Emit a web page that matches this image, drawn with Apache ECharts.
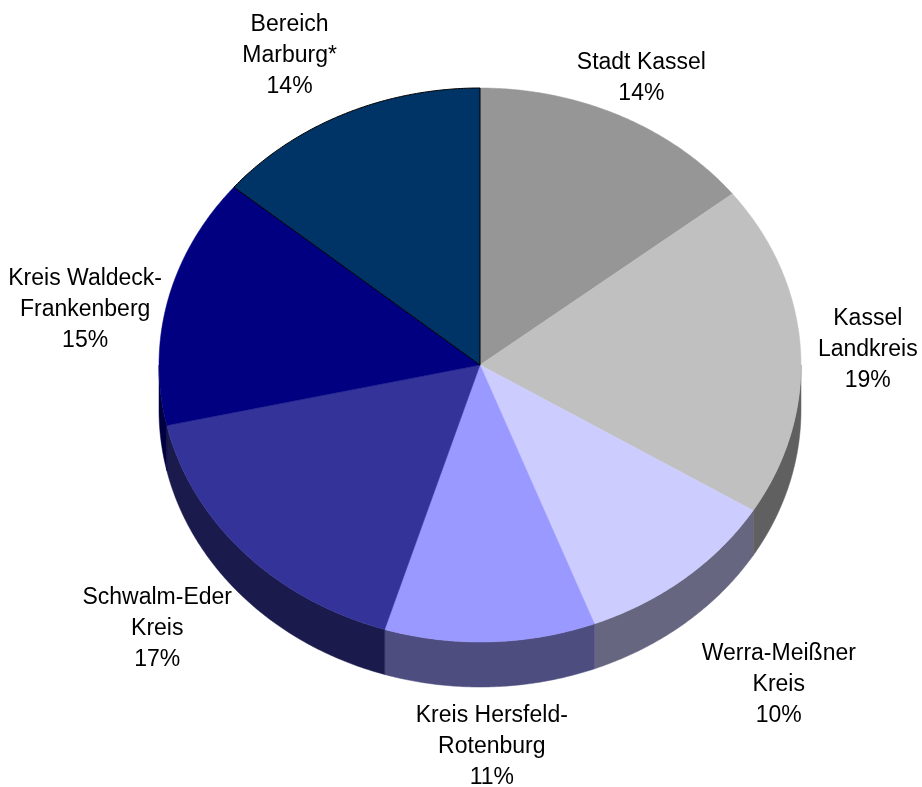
<!DOCTYPE html>
<html>
<head>
<meta charset="utf-8">
<script src="https://cdn.jsdelivr.net/npm/echarts@6/dist/echarts.min.js"></script>
<style>
  html, body { margin: 0; background: #fff; }
  #chart { width: 922px; height: 787px; }
</style>
</head>
<body>
<div id="chart"></div>
<script>
// Anteile der Regionen, im Uhrzeigersinn ab 12 Uhr
const regions = [
  'Stadt Kassel',
  'Kassel\nLandkreis',
  'Werra-Meißner\nKreis',
  'Kreis Hersfeld-\nRotenburg',
  'Schwalm-Eder\nKreis',
  'Kreis Waldeck-\nFrankenberg',
  'Bereich\nMarburg*'
]
const shares = [14.4, 19.4, 10.4, 10.6, 16.7, 14.6, 13.9]

// Farben: Oberseite / Seitenwand
const topColors = ['#969696', '#c0c0c0', '#ccccff', '#9999ff', '#333399', '#000080', '#003366']
const sideColors = ['#4b4b4b', '#606060', '#666680', '#4d4d80', '#1a1a4d', '#000040', '#001a33']
// Beschriftung: Abstand (relativ zum Radius) und Feinkorrektur in px
const labelDist = [1.15, 1.21, 1.47, 1.37, 1.38, 1.25, 1.27]
const labelNudge = [[0, 0], [0, 4], [-2, 6], [-2, 2], [3, 5], [-5, 27], [-18, 9]]

// Geometrie des 3D-Kuchens
const cx = 480, cy = 365, rx = 321, ry = 277, depth = 45

const total = shares.reduce((a, b) => a + b, 0)
const starts = []
shares.reduce((acc, v) => { starts.push(acc); return acc + v }, 0)

const toAngle = v => v / total * Math.PI * 2
const pt = (a, dy) => [cx + rx * Math.sin(a), cy - ry * Math.cos(a) + dy]

function arc(a0, a1, dy) {
  const n = Math.max(2, Math.ceil((a1 - a0) / (Math.PI / 360)))
  const out = []
  for (let i = 0; i <= n; i++) out.push(pt(a0 + (a1 - a0) * i / n, dy))
  return out
}

function renderItem(params, api) {
  const i = params.dataIndex
  const v = api.value(0)
  const a0 = toAngle(starts[i])
  const a1 = a0 + toAngle(v)
  const children = []

  // Seitenwand nur vorne sichtbar (90°..270°)
  const s0 = Math.max(a0, Math.PI / 2)
  const s1 = Math.min(a1, Math.PI * 1.5)
  if (s1 > s0) {
    const upper = arc(s0, s1, 0)
    const lower = arc(s0, s1, depth).reverse()
    children.push({
      type: 'polygon',
      shape: { points: upper.concat(lower) },
      style: { fill: sideColors[i], stroke: sideColors[i], lineWidth: 0.5 }
    })
  }

  // Oberseite
  const isMarburg = i === regions.length - 1
  children.push({
    type: 'polygon',
    shape: { points: [[cx, cy]].concat(arc(a0, a1, 0)) },
    style: {
      fill: topColors[i],
      stroke: isMarburg ? '#000' : topColors[i],
      lineWidth: isMarburg ? 1 : 0.5
    }
  })

  // Beschriftung
  const mid = (a0 + a1) / 2
  const k = labelDist[i]
  children.push({
    type: 'text',
    x: cx + rx * k * Math.sin(mid) + labelNudge[i][0],
    y: cy - ry * k * Math.cos(mid) + labelNudge[i][1],
    style: {
      text: regions[i] + '\n' + Math.round(v / total * 100) + '%',
      fill: '#000',
      fontSize: 23,
      fontFamily: 'Liberation Sans, Arial, sans-serif',
      align: 'center',
      verticalAlign: 'middle',
      lineHeight: 31
    }
  })

  return { type: 'group', children }
}

const chart = echarts.init(document.getElementById('chart'), null, { renderer: 'canvas' })
chart.setOption({
  backgroundColor: '#fff',
  animation: false,
  series: [{
    type: 'custom',
    coordinateSystem: 'none',
    renderItem,
    data: shares
  }]
})
</script>
</body>
</html>
